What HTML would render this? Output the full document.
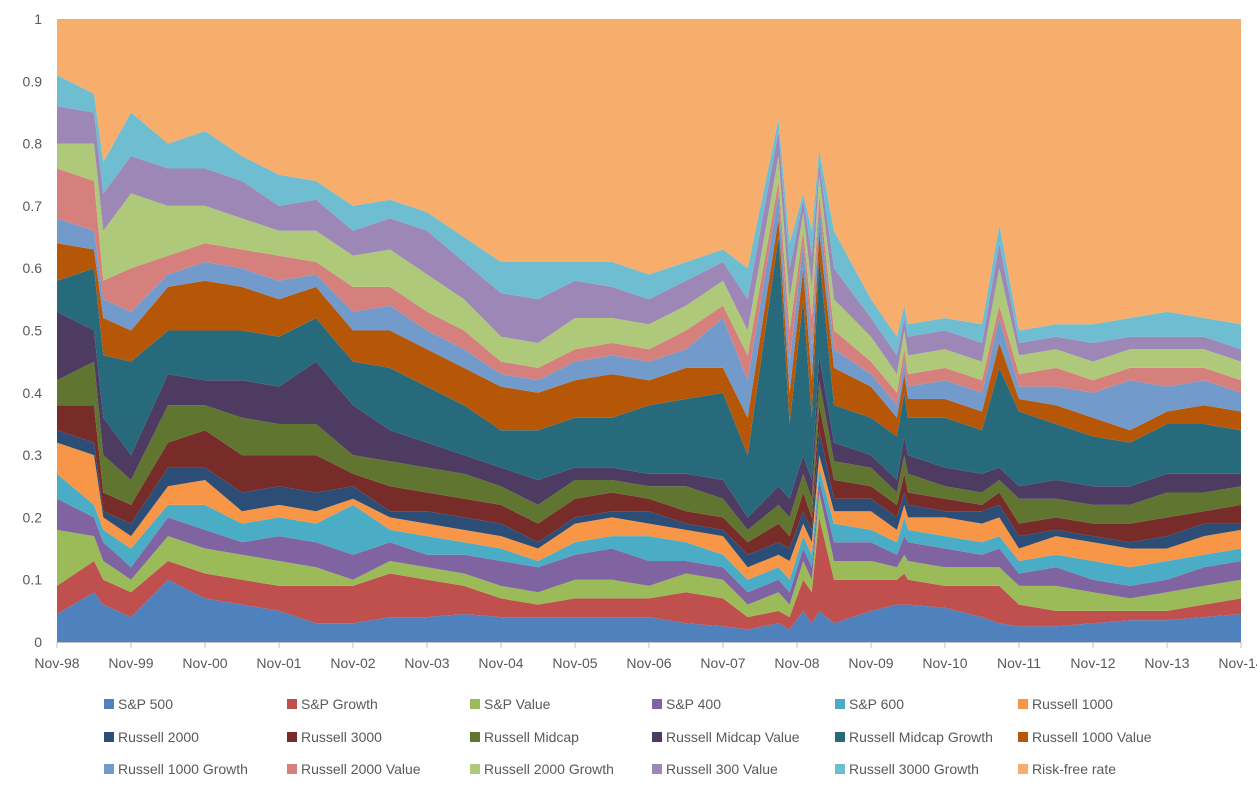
<!DOCTYPE html>
<html><head><meta charset="utf-8"><style>
body{margin:0;background:#fff;font-family:"Liberation Sans",sans-serif;}
svg text{font-family:"Liberation Sans",sans-serif;fill:#595959;font-size:14px;}
</style></head><body>
<svg id="chart" width="1257" height="789">
<g id="areas"></g>
<g id="axes"></g>
<g id="legend"></g>
</svg>
<script>
const seriesNames=["S&P 500","S&P Growth","S&P Value","S&P 400","S&P 600","Russell 1000","Russell 2000","Russell 3000","Russell Midcap","Russell Midcap Value","Russell Midcap Growth","Russell 1000 Value","Russell 1000 Growth","Russell 2000 Value","Russell 2000 Growth","Russell 300 Value","Russell 3000 Growth","Risk-free rate"];
const seriesColors=["#4f81bd","#c0504d","#9bbb59","#8064a2","#4bacc6","#f79646","#2c4d75","#772c2a","#5f7530","#4d3b62","#276a7c","#b65708","#729aca","#d5807c","#afc97a","#9d87b6","#6fbdd1","#f7ad6b"];
const xTickLabels=["Nov-98","Nov-99","Nov-00","Nov-01","Nov-02","Nov-03","Nov-04","Nov-05","Nov-06","Nov-07","Nov-08","Nov-09","Nov-10","Nov-11","Nov-12","Nov-13","Nov-14"];
const yTickLabels=["0","0.1","0.2","0.3","0.4","0.5","0.6","0.7","0.8","0.9","1"];
const dates=[0,6,7.5,12,18,24,30,36,42,48,54,60,66,72,78,84,90,96,102,108,112,117,118.8,121,122.4,123.6,126,132,136.2,137.4,138,144,150,152.8,156,162,168,174,180,186,192];
const stackTops=[
[.045,.09,.18,.23,.27,.32,.34,.38,.42,.53,.58,.64,.68,.76,.80,.86,.91],
[.08,.13,.17,.20,.22,.30,.32,.38,.45,.50,.60,.63,.66,.74,.80,.85,.88],
[.06,.10,.13,.16,.18,.20,.21,.24,.30,.36,.46,.52,.55,.58,.66,.72,.77],
[.04,.08,.10,.12,.15,.17,.19,.22,.26,.30,.45,.50,.53,.60,.72,.78,.85],
[.10,.13,.17,.20,.22,.25,.28,.32,.38,.43,.50,.57,.59,.62,.70,.76,.80],
[.07,.11,.15,.18,.22,.26,.28,.34,.38,.42,.50,.58,.61,.64,.70,.76,.82],
[.06,.10,.14,.16,.19,.21,.24,.30,.36,.42,.50,.57,.60,.63,.68,.74,.78],
[.05,.09,.13,.17,.20,.22,.25,.30,.35,.41,.49,.55,.58,.62,.66,.70,.75],
[.03,.09,.12,.16,.19,.21,.24,.30,.35,.45,.52,.57,.59,.61,.66,.71,.74],
[.03,.09,.10,.14,.22,.23,.25,.27,.30,.38,.45,.50,.53,.57,.62,.66,.70],
[.04,.11,.13,.16,.18,.20,.21,.25,.29,.34,.44,.50,.54,.57,.63,.68,.71],
[.04,.10,.12,.14,.17,.19,.21,.24,.28,.32,.41,.47,.50,.53,.59,.66,.69],
[.045,.09,.11,.14,.16,.18,.20,.23,.27,.30,.38,.44,.47,.50,.55,.61,.65],
[.04,.07,.09,.13,.15,.17,.19,.22,.25,.28,.34,.41,.43,.45,.49,.56,.61],
[.04,.06,.08,.12,.13,.15,.16,.19,.22,.26,.34,.40,.42,.44,.48,.55,.61],
[.04,.07,.10,.14,.16,.19,.20,.23,.26,.28,.36,.42,.45,.47,.52,.58,.61],
[.04,.07,.10,.15,.17,.20,.21,.24,.26,.28,.36,.43,.46,.48,.52,.57,.61],
[.04,.07,.09,.13,.17,.19,.21,.23,.25,.27,.38,.42,.45,.47,.51,.55,.59],
[.03,.08,.11,.13,.16,.18,.19,.21,.25,.27,.39,.44,.47,.50,.54,.58,.61],
[.025,.07,.10,.12,.14,.17,.18,.20,.23,.26,.40,.44,.52,.54,.58,.61,.63],
[.02,.04,.06,.08,.10,.12,.14,.16,.18,.20,.30,.36,.42,.46,.50,.55,.60],
[.03,.05,.08,.10,.12,.14,.16,.19,.22,.25,.65,.68,.72,.74,.78,.82,.84],
[.02,.04,.06,.08,.10,.13,.15,.17,.20,.23,.35,.40,.45,.50,.55,.60,.64],
[.05,.10,.13,.15,.17,.19,.21,.24,.27,.30,.55,.60,.64,.66,.69,.71,.72],
[.03,.08,.10,.12,.14,.16,.18,.20,.23,.26,.36,.42,.47,.52,.57,.62,.66],
[.05,.20,.24,.26,.28,.30,.34,.38,.42,.46,.62,.66,.70,.72,.75,.77,.79],
[.03,.10,.13,.16,.19,.21,.23,.26,.29,.32,.38,.44,.47,.50,.55,.60,.66],
[.05,.10,.13,.16,.18,.21,.23,.25,.28,.30,.36,.41,.43,.45,.49,.52,.55],
[.06,.10,.12,.14,.16,.18,.20,.22,.24,.26,.33,.36,.38,.40,.43,.46,.49],
[.06,.11,.14,.17,.20,.22,.24,.27,.30,.33,.40,.43,.45,.47,.50,.52,.54],
[.06,.10,.13,.16,.18,.20,.22,.24,.27,.30,.36,.39,.41,.43,.46,.49,.51],
[.055,.09,.12,.15,.17,.20,.21,.23,.25,.28,.36,.39,.42,.44,.47,.50,.52],
[.04,.09,.12,.14,.16,.19,.21,.22,.24,.27,.34,.37,.40,.42,.45,.48,.51],
[.03,.09,.12,.15,.17,.20,.22,.24,.26,.28,.44,.48,.52,.54,.60,.64,.67],
[.025,.06,.09,.11,.13,.15,.17,.19,.23,.25,.37,.39,.41,.43,.46,.48,.50],
[.025,.05,.09,.12,.14,.17,.18,.20,.23,.26,.35,.38,.41,.44,.47,.49,.51],
[.03,.05,.08,.10,.13,.16,.17,.19,.22,.25,.33,.36,.40,.42,.45,.48,.51],
[.035,.05,.07,.09,.12,.15,.16,.19,.22,.25,.32,.34,.42,.44,.47,.49,.52],
[.035,.05,.08,.10,.13,.15,.17,.20,.24,.27,.35,.37,.41,.44,.47,.49,.53],
[.04,.06,.09,.12,.14,.17,.19,.21,.24,.27,.35,.38,.42,.44,.47,.49,.52],
[.045,.07,.10,.13,.15,.18,.19,.22,.25,.27,.34,.37,.40,.42,.45,.47,.51]
];
(function(){
const NS="http://www.w3.org/2000/svg";
const X0=57,X1=1241,Y0=642,Y1=19;
const xScale=m=>X0+(X1-X0)*m/192;
const yScale=v=>Y0-(Y0-Y1)*v;
const gAreas=document.getElementById('areas'),gAxes=document.getElementById('axes'),gLegend=document.getElementById('legend');
function stackTop(i,s){return s<0?0:(s>=17?1:stackTops[i][s]);}
for(let s=0;s<18;s++){
  const up=[],dn=[];
  for(let i=0;i<dates.length;i++){up.push(xScale(dates[i]).toFixed(1)+","+yScale(stackTop(i,s)).toFixed(1));}
  for(let i=dates.length-1;i>=0;i--){dn.push(xScale(dates[i]).toFixed(1)+","+yScale(stackTop(i,s-1)).toFixed(1));}
  const p=document.createElementNS(NS,'polygon');
  p.setAttribute('points',up.concat(dn).join(' '));
  p.setAttribute('fill',seriesColors[s]);
  
  
  gAreas.appendChild(p);
}
const ax=document.createElementNS(NS,'line');
ax.setAttribute('x1',X0);ax.setAttribute('x2',X1);ax.setAttribute('y1',Y0+0.5);ax.setAttribute('y2',Y0+0.5);ax.setAttribute('stroke','#bfbfbf');


gAxes.appendChild(ax);
yTickLabels.forEach((l,i)=>{
  const t=document.createElementNS(NS,'text');
  t.setAttribute('x',42);t.setAttribute('y',yScale(i/10)+5);t.setAttribute('text-anchor','end');t.textContent=l;
  
  
  gAxes.appendChild(t);
});
xTickLabels.forEach((l,i)=>{
  const x=xScale(i*12);
  const tk=document.createElementNS(NS,'line');
  tk.setAttribute('x1',x);tk.setAttribute('x2',x);tk.setAttribute('y1',Y0);tk.setAttribute('y2',Y0+6);tk.setAttribute('stroke','#bfbfbf');
  
  
  gAxes.appendChild(tk);
  const t=document.createElementNS(NS,'text');
  t.setAttribute('x',x);t.setAttribute('y',668);t.setAttribute('text-anchor','middle');t.textContent=l;
  
  
  gAxes.appendChild(t);
});
const legCols=[104,287,470,652,835,1018],legRows=[704,737,769];
seriesNames.forEach((n,i)=>{
  const x=legCols[i%6],y=legRows[Math.floor(i/6)];
  const g=document.createElementNS(NS,'g');
  
  
  const r=document.createElementNS(NS,'rect');
  r.setAttribute('x',x);r.setAttribute('y',y-5);r.setAttribute('width',10);r.setAttribute('height',10);r.setAttribute('fill',seriesColors[i]);
  
  
  const t=document.createElementNS(NS,'text');
  t.setAttribute('x',x+14);t.setAttribute('y',y+5);t.textContent=n;
  
  
  g.appendChild(r);g.appendChild(t);gLegend.appendChild(g);
});
})();
</script>
</body></html>
